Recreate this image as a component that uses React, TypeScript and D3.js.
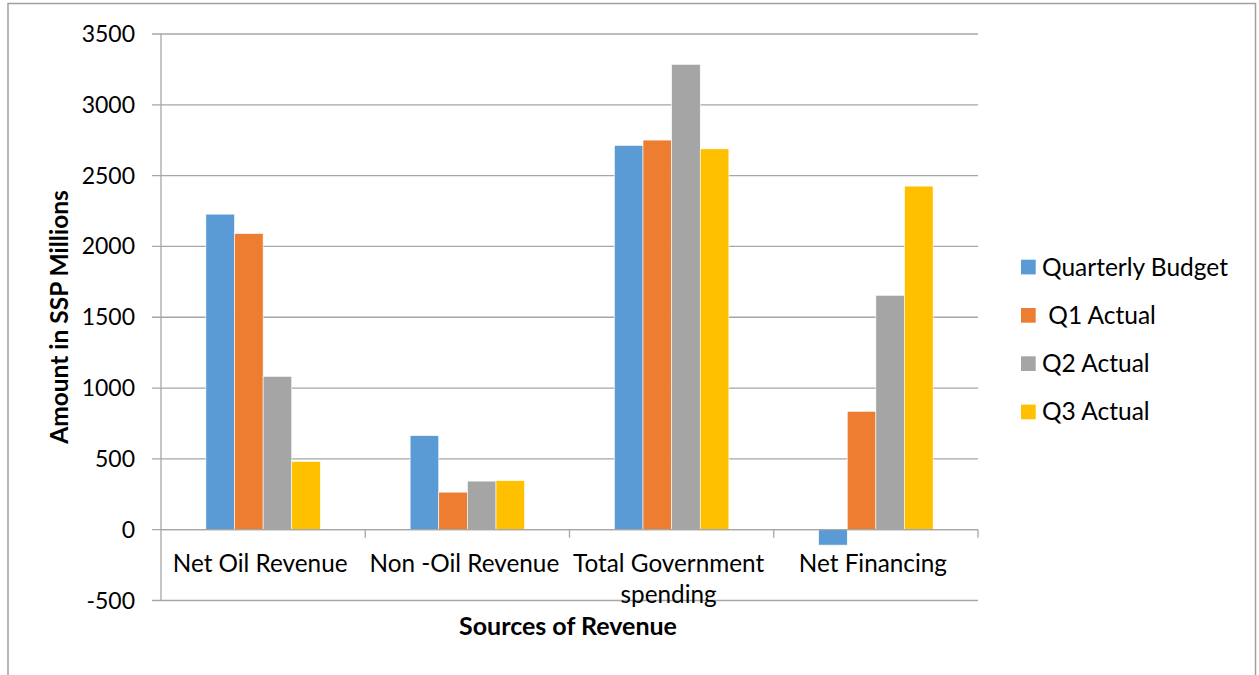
import React from "react";
import * as d3 from "d3";

const categories = ["Net Oil Revenue", "Non -Oil Revenue", "Total Government spending", "Net Financing"];
const seriesNames = ["Quarterly Budget", " Q1 Actual", "Q2 Actual", "Q3 Actual"];
const seriesColors = ["#5B9BD5", "#ED7D31", "#A5A5A5", "#FFC000"];
const quarterlyBudget = [2228, 664, 2713, -109];
const q1Actual = [2091, 265, 2751, 836];
const q2Actual = [1083, 343, 3286, 1655];
const q3Actual = [482, 346, 2689, 2426];
const yTicks = [-500, 0, 500, 1000, 1500, 2000, 2500, 3000, 3500];
const categoryLabelLines = [["Net Oil Revenue"], ["Non -Oil Revenue"], ["Total Government", "spending"], ["Net Financing"]];

const W = 1259;
const H = 675;
const FONT = "Lato, 'Open Sans', sans-serif";

export default function App() {
  const series = [quarterlyBudget, q1Actual, q2Actual, q3Actual];
  const x0 = d3.scaleBand<string>().domain(categories).range([161, 978]).paddingInner(0).paddingOuter(0);
  const bw = x0.bandwidth();
  const groupW = bw / 1.784;
  const x1 = d3
    .scaleBand<number>()
    .domain(d3.range(series.length))
    .range([(bw - groupW) / 2, (bw + groupW) / 2])
    .padding(0);
  const y = d3.scaleLinear().domain([-500, 3500]).range([600.5, 34]);
  const gridColor = "#A6A6A6";

  return (
    <svg
      width={W}
      height={H}
      style={{ position: "absolute", left: 0, top: 0, display: "block", background: "#fff" }}
      fontFamily={FONT}
    >
      {/* outer chart border */}
      <path d={`M8,${H + 2} V3.5 H1255.5 V${H + 2}`} fill="none" stroke="#A0A0A0" strokeWidth={1.5} />

      {/* gridlines + y ticks */}
      {yTicks.map((t) => (
        <g key={t}>
          <line x1={152} x2={978} y1={y(t)} y2={y(t)} stroke={gridColor} strokeWidth={1.3} />
          <text x={135} y={y(t)} dy="0.35em" textAnchor="end" fontSize={23} fill="#000">
            {t}
          </text>
        </g>
      ))}
      {/* y axis line */}
      <line x1={161} x2={161} y1={y(3500)} y2={y(-500)} stroke={gridColor} strokeWidth={1.3} />

      {/* bars */}
      {categories.map((c, ci) => (
        <g key={c} transform={`translate(${x0(c)},0)`}>
          {series.map((s, si) => {
            const v = s[ci];
            const top = y(Math.max(0, v));
            const h = Math.abs(y(v) - y(0));
            return (
              <rect
                key={si}
                x={x1(si)}
                y={top}
                width={x1.bandwidth()}
                height={h}
                fill={seriesColors[si]}
                stroke="#fff"
                strokeWidth={0.6}
              />
            );
          })}
        </g>
      ))}

      {/* x axis line at 0 */}
      <line x1={161} x2={978} y1={y(0)} y2={y(0)} stroke={gridColor} strokeWidth={1.3} />
      {categories.map((c, i) => (
        <line key={"t" + i} x1={(x0(c) as number) + bw} x2={(x0(c) as number) + bw} y1={y(0)} y2={y(0) + 8} stroke={gridColor} strokeWidth={1.3} />
      ))}

      {/* category labels */}
      {categories.map((c, i) => (
        <text key={"l" + c} x={(x0(c) as number) + bw / 2 - 3} y={572} textAnchor="middle" fontSize={24.3} fill="#000">
          {categoryLabelLines[i].map((ln, li) => (
            <tspan key={li} x={(x0(c) as number) + bw / 2 - 3} dy={li === 0 ? 0 : 31}>
              {ln}
            </tspan>
          ))}
        </text>
      ))}

      {/* axis titles */}
      <text x={568} y={635} textAnchor="middle" fontSize={25} fontWeight="bold" fill="#000">
        Sources of Revenue
      </text>
      <text
        transform={`translate(68,${317}) rotate(-90)`}
        textAnchor="middle"
        fontSize={24.5}
        fontWeight="bold"
        fill="#000"
      >
        Amount in SSP Millions
      </text>

      {/* legend */}
      {seriesNames.map((n, i) => {
        const cy = 267 + i * 48.3;
        return (
          <g key={n}>
            <rect x={1021} y={cy - 7.3} width={14.7} height={14.7} fill={seriesColors[i]} />
            <text x={1042} y={cy} dy="0.35em" fontSize={24.5} fill="#000" style={{ whiteSpace: "pre" }}>
              {n}
            </text>
          </g>
        );
      })}
    </svg>
  );
}
